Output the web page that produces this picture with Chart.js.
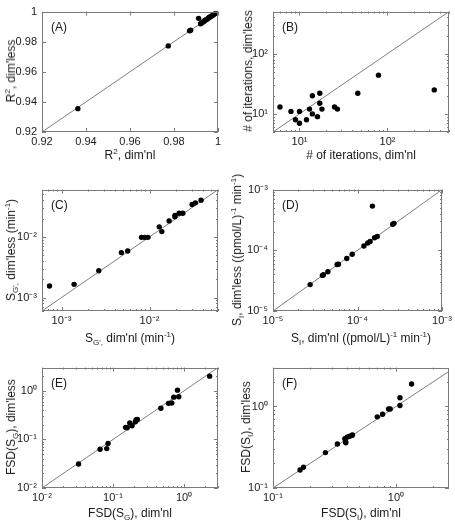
<!DOCTYPE html>
<html>
<head>
<meta charset="utf-8">
<script src="https://cdn.jsdelivr.net/npm/chart.js@4.4.1/dist/chart.umd.min.js"></script>
<style>
body { margin:0; background:#fff; width:455px; height:523px; position:relative; overflow:hidden;
       font-family:"Liberation Sans", Arial, sans-serif; color:#1a1a1a; }
canvas { position:absolute; }
.xt, .yt { position:absolute; font-size:12px; white-space:nowrap; transform:translate(-50%,-50%); }
.yt { transform:translate(-50%,-50%) rotate(-90deg); }
sub, sup { font-size:8px; line-height:0; }
</style>
</head>
<body>
<script>
// ---- data: x = dim'nl estimate, y = dim'less estimate ----
const r2Nl   = [0.9363, 0.9774, 0.9871, 0.9876, 0.9912, 0.9921, 0.9926, 0.9932, 0.9937, 0.9941, 0.9946, 0.9952, 0.9957, 0.9961, 0.9966, 0.9972, 0.9976, 0.9981, 0.9985, 0.9989, 0.9992];
const r2Less = [0.9355, 0.9772, 0.9872, 0.9876, 0.9955, 0.9919, 0.9925, 0.9931, 0.9936, 0.9942, 0.9946, 0.9951, 0.9957, 0.9962, 0.9966, 0.9971, 0.9976, 0.9980, 0.9985, 0.9989, 0.9993];

const iterNl   = [6, 8, 9, 10, 10, 12, 13, 14, 14, 16, 17, 17, 18, 25, 27, 46, 79, 340];
const iterLess = [13, 11, 8, 11, 7, 8, 12, 10, 20, 9, 22, 15, 12, 13, 12, 22, 44, 25];

const sgNl   = [0.00073, 0.00139, 0.00265, 0.00479, 0.00565, 0.0081, 0.0088, 0.0096, 0.0129, 0.0138, 0.0167, 0.0194, 0.0195, 0.0217, 0.0239, 0.0305, 0.0332, 0.0385];
const sgLess = [0.00155, 0.00165, 0.00276, 0.0055, 0.00585, 0.0098, 0.0098, 0.0098, 0.0146, 0.0122, 0.0183, 0.0215, 0.0226, 0.0244, 0.0244, 0.0341, 0.0363, 0.0402];

const siNl   = [2.75e-5, 3.84e-5, 3.95e-5, 4.46e-5, 5.74e-5, 5.95e-5, 7.46e-5, 8.65e-5, 1.19e-4, 1.32e-4, 1.41e-4, 1.50e-4, 1.59e-4, 1.71e-4, 2.61e-4, 2.70e-4];
const siLess = [2.72e-5, 3.86e-5, 3.95e-5, 4.44e-5, 5.83e-5, 5.90e-5, 7.31e-5, 8.60e-5, 1.18e-4, 1.32e-4, 1.40e-4, 5.35e-4, 1.61e-4, 1.69e-4, 2.68e-4, 2.78e-4];

const fsdSgNl   = [0.0327, 0.0657, 0.0815, 0.085, 0.15, 0.158, 0.172, 0.185, 0.206, 0.212, 0.22, 0.471, 0.603, 0.671, 0.716, 0.841, 0.807, 2.29];
const fsdSgLess = [0.0311, 0.0625, 0.0646, 0.0828, 0.177, 0.174, 0.217, 0.191, 0.231, 0.253, 0.257, 0.437, 0.551, 0.560, 0.74, 0.752, 1.03, 2.0];

const fsdSiNl   = [0.166, 0.177, 0.267, 0.334, 0.384, 0.389, 0.391, 0.401, 0.416, 0.435, 0.443, 0.705, 0.778, 0.871, 0.898, 1.078, 1.078, 1.34];
const fsdSiLess = [0.166, 0.180, 0.272, 0.346, 0.402, 0.369, 0.359, 0.421, 0.429, 0.441, 0.448, 0.746, 0.804, 0.933, 0.930, 1.03, 1.28, 1.89];

// tick values
const r2Ticks    = [0.92, 0.94, 0.96, 0.98, 1];
const iterTicks  = [10, 100];
const sgTicks    = [0.001, 0.01];
const siTicks    = [1e-5, 1e-4, 1e-3];
const fsdSgTicks = [0.01, 0.1, 1];
const fsdSiTicks = [0.1, 1];

Chart.defaults.font.family = '"Liberation Sans", Arial, sans-serif';
Chart.defaults.color = '#1a1a1a';

const supMap = {'-':'⁻','0':'⁰','1':'¹','2':'²','3':'³','4':'⁴','5':'⁵','6':'⁶','7':'⁷','8':'⁸','9':'⁹'};
function decadeLabel(v) {
  const e = Math.round(Math.log10(v));
  return '10' + String(e).split('').map(c => supMap[c]).join('');
}

// matlab-ish box with inward ticks on all four sides + panel letter
const boxTicks = {
  id: 'boxTicks',
  afterDatasetsDraw(chart, args, o) {
    const {ctx, chartArea: a, scales: {x, y}} = chart;
    ctx.save();
    ctx.strokeStyle = '#7a7a7a';
    ctx.lineWidth = 1;
    ctx.strokeRect(Math.round(a.left) + 0.5, Math.round(a.top) + 0.5,
                   Math.round(a.right - a.left) - 1, Math.round(a.bottom - a.top) - 1);
    const marks = s => {
      if (!o.log) return s.ticks.map(t => [t.value, 4]);
      const out = [];
      for (let e = Math.floor(Math.log10(s.min)); e <= Math.ceil(Math.log10(s.max)); e++) {
        for (let m = 1; m < 10; m++) {
          const v = m * Math.pow(10, e);
          if (v >= s.min * 0.999 && v <= s.max * 1.001) out.push([v, m === 1 ? 4 : 2]);
        }
      }
      return out;
    };
    ctx.beginPath();
    marks(x).forEach(([v, l]) => {
      const px = Math.round(x.getPixelForValue(v)) + 0.5;
      ctx.moveTo(px, a.bottom); ctx.lineTo(px, a.bottom - l);
      ctx.moveTo(px, a.top);    ctx.lineTo(px, a.top + l);
    });
    marks(y).forEach(([v, l]) => {
      const py = Math.round(y.getPixelForValue(v)) + 0.5;
      ctx.moveTo(a.left, py);  ctx.lineTo(a.left + l, py);
      ctx.moveTo(a.right, py); ctx.lineTo(a.right - l, py);
    });
    ctx.stroke();
    ctx.fillStyle = '#1a1a1a';
    ctx.font = '12px "Liberation Sans", Arial, sans-serif';
    ctx.fillText(o.label, a.left + 9, a.top + 19);
    ctx.restore();
  }
};

function addTitle(cls, html, cx, cy) {
  const d = document.createElement('div');
  d.className = cls;
  d.innerHTML = html;
  d.style.left = cx + 'px';
  d.style.top = cy + 'px';
  document.body.appendChild(d);
}

function makePanel(p) {
  const yw = 44, xh = 22, pt = 10, pr = 6;
  const cv = document.createElement('canvas');
  cv.width = yw + p.w + pr;
  cv.height = pt + p.h + xh;
  cv.style.left = (p.left - yw) + 'px';
  cv.style.top = (p.top - pt) + 'px';
  document.body.appendChild(cv);

  const pts = p.xs.map((v, i) => ({x: v, y: p.ys[i]}));
  const lo = Math.min(p.xMin, p.yMin), hi = Math.max(p.xMax, p.yMax);
  const type = p.log ? 'logarithmic' : 'linear';
  const axis = (pos, min, max) => ({
    type, position: pos, min, max,
    grid: {display: false, drawTicks: false},
    border: {display: false},
    afterBuildTicks: s => { s.ticks = p.ticks.map(v => ({value: v})); },
    afterFit: s => { if (pos === 'left') s.width = yw; else s.height = xh; },
    ticks: {
      autoSkip: false, maxRotation: 0, padding: pos === 'left' ? 5 : 3,
      font: {size: 11},
      callback: v => p.log ? decadeLabel(v) : (v === 1 ? '1' : v.toFixed(2))
    }
  });

  new Chart(cv, {
    type: 'scatter',
    data: {
      datasets: [
        {data: [{x: lo, y: lo}, {x: hi, y: hi}], showLine: true, borderColor: '#7f7f7f',
         borderWidth: 1, pointRadius: 0, order: 2},
        {data: pts, backgroundColor: '#000', borderWidth: 0, pointRadius: 2.7, order: 1}
      ]
    },
    options: {
      responsive: false, animation: false, events: [],
      layout: {padding: {top: pt, right: pr, left: 0, bottom: 0}},
      plugins: {legend: {display: false}, tooltip: {enabled: false},
                boxTicks: {label: p.label, log: p.log}},
      scales: {x: axis('bottom', p.xMin, p.xMax), y: axis('left', p.yMin, p.yMax)}
    },
    plugins: [boxTicks]
  });

  addTitle('xt', p.xTitle, p.left + p.w / 2, p.xTitleY);
  addTitle('yt', p.yTitle, p.yTitleX, p.top + p.h / 2);
}

makePanel({label: '(A)', xs: r2Nl, ys: r2Less, ticks: r2Ticks, log: false,
  xMin: 0.92, xMax: 1, yMin: 0.92, yMax: 1,
  left: 42, top: 10, w: 176, h: 122, xTitleY: 155, yTitleX: 11,
  xTitle: "R<sup>2</sup>, dim'nl", yTitle: "R<sup>2</sup>, dim'less"});

makePanel({label: '(B)', xs: iterNl, ys: iterLess, ticks: iterTicks, log: true,
  xMin: 5, xMax: 500, yMin: 5, yMax: 500,
  left: 273, top: 10, w: 176, h: 122, xTitleY: 155, yTitleX: 248,
  xTitle: "# of iterations, dim'nl", yTitle: "# of iterations, dim'less"});

makePanel({label: '(C)', xs: sgNl, ys: sgLess, ticks: sgTicks, log: true,
  xMin: 0.0006, xMax: 0.06, yMin: 0.0006, yMax: 0.06,
  left: 42, top: 188, w: 176, h: 123, xTitleY: 338, yTitleX: 11,
  xTitle: "S<sub>G',</sub> dim'nl (min<sup>-1</sup>)", yTitle: "S<sub>G',</sub> dim'less (min<sup>-1</sup>)"});

makePanel({label: '(D)', xs: siNl, ys: siLess, ticks: siTicks, log: true,
  xMin: 1e-5, xMax: 1e-3, yMin: 1e-5, yMax: 1e-3,
  left: 273, top: 188, w: 176, h: 123, xTitleY: 338, yTitleX: 237,
  xTitle: "S<sub>I</sub>, dim'nl ((pmol/L)<sup>-1</sup> min<sup>-1</sup>)",
  yTitle: "S<sub>I</sub>, dim'less ((pmol/L)<sup>-1</sup> min<sup>-1</sup>)"});

makePanel({label: '(E)', xs: fsdSgNl, ys: fsdSgLess, ticks: fsdSgTicks, log: true,
  xMin: 0.01, xMax: 3, yMin: 0.01, yMax: 3,
  left: 42, top: 366, w: 176, h: 122, xTitleY: 513, yTitleX: 11,
  xTitle: "FSD(S<sub>G</sub>), dim'nl", yTitle: "FSD(S<sub>G</sub>), dim'less"});

makePanel({label: '(F)', xs: fsdSiNl, ys: fsdSiLess, ticks: fsdSiTicks, log: true,
  xMin: 0.1, xMax: 2.7, yMin: 0.1, yMax: 3,
  left: 273, top: 366, w: 176, h: 122, xTitleY: 513, yTitleX: 246,
  xTitle: "FSD(S<sub>I</sub>), dim'nl", yTitle: "FSD(S<sub>I</sub>), dim'less"});
</script>
</body>
</html>
